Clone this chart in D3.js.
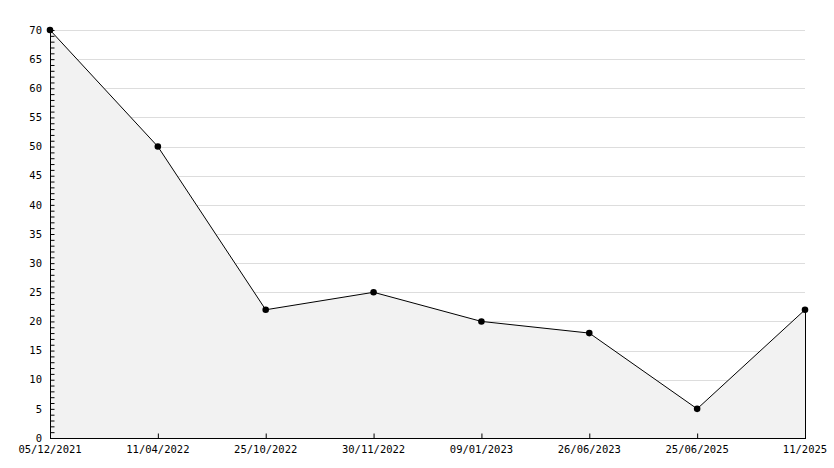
<!DOCTYPE html>
<html><head><meta charset="utf-8">
<script src="https://cdn.jsdelivr.net/npm/d3@7"></script>
<style>html,body{margin:0;padding:0;background:#fff}</style>
</head><body>
<svg id="c" width="834" height="468"></svg>
<script>
const categories = ["05/12/2021","11/04/2022","25/10/2022","30/11/2022","09/01/2023","26/06/2023","25/06/2025","11/2025"];
const values = [70,50,22,25,20,18,5,22];
const yTicks = [0,5,10,15,20,25,30,35,40,45,50,55,60,65,70];

const svg = d3.select("#c");
const L = 50, R = 805, T = 30, B = 438;
const x = d3.scalePoint().domain(categories).range([L, R]);
const y = d3.scaleLinear().domain([0, 70]).range([B, T]);
const font = "'DejaVu Sans Mono', monospace";

// gridlines
svg.append("g").selectAll("line").data(yTicks.filter(d => d > 0)).join("line")
  .attr("x1", L).attr("x2", R)
  .attr("y1", d => Math.round(y(d)) + 0.5).attr("y2", d => Math.round(y(d)) + 0.5)
  .attr("stroke", "#dddddd").attr("stroke-width", 1);

// area
const area = d3.area().x((d, i) => x(categories[i])).y0(B).y1(d => y(d));
svg.append("path").datum(values).attr("d", area)
  .attr("fill", "#f2f2f2").attr("stroke", "none");
// right edge of area
svg.append("line").attr("x1", R + 0.5).attr("x2", R + 0.5)
  .attr("y1", y(values[values.length - 1])).attr("y2", B)
  .attr("stroke", "#000").attr("stroke-width", 1);

// line
const line = d3.line().x((d, i) => x(categories[i])).y(d => y(d));
svg.append("path").datum(values).attr("d", line)
  .attr("fill", "none").attr("stroke", "#000").attr("stroke-width", 1);

// y axis
const yAxis = d3.axisRight(y).tickValues(d3.range(0, 71, 1)).tickSize(4).tickFormat("");
const gy = svg.append("g").attr("transform", `translate(${L + 0.5},0)`).call(yAxis);
gy.select(".domain").attr("d", `M0,${B}V${T}`).attr("stroke", "#000");
gy.selectAll(".tick line").attr("stroke", "#000");
svg.append("g").selectAll("text").data(yTicks).join("text")
  .attr("x", L - 8).attr("y", d => y(d)).attr("dy", "0.35em")
  .attr("text-anchor", "end").attr("font-family", font).attr("font-size", 10.5)
  .attr("fill", "#000").text(d => d);

// x axis
const xAxis = d3.axisTop(x).tickSize(5).tickFormat("");
const gx = svg.append("g").attr("transform", `translate(0,${B + 0.5})`).call(xAxis);
gx.select(".domain").attr("d", `M${L},0H${R + 1}`).attr("stroke", "#000");
gx.selectAll(".tick line").attr("stroke", "#000");
svg.append("g").selectAll("text").data(categories).join("text")
  .attr("x", d => x(d)).attr("y", B + 15)
  .attr("text-anchor", "middle").attr("font-family", font).attr("font-size", 10.5)
  .attr("fill", "#000").text(d => d);

// markers
svg.append("g").selectAll("path").data(values).join("path")
  .attr("transform", (d, i) => `translate(${x(categories[i])},${y(d)})`)
  .attr("d", d3.symbol().type(d3.symbolCircle).size(34))
  .attr("fill", "#000");
</script>
</body></html>
